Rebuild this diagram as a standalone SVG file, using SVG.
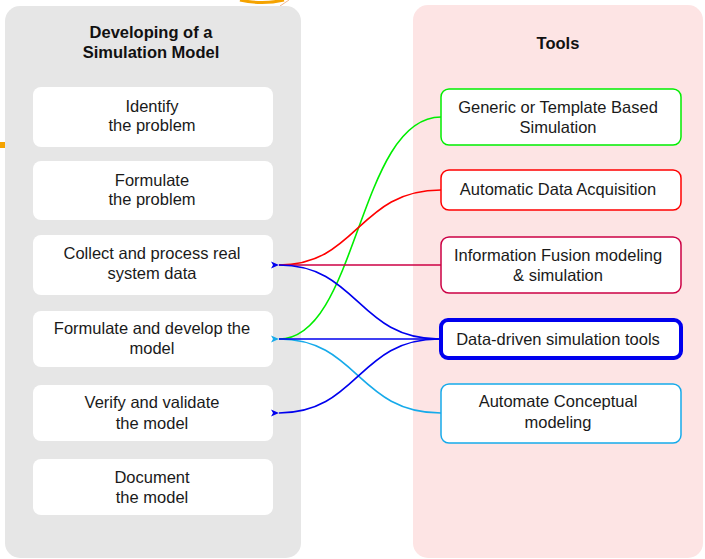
<svg xmlns="http://www.w3.org/2000/svg" width="705" height="559" viewBox="0 0 705 559">
  <style>
    .lbl { font-family: "Liberation Sans", Arial, sans-serif; font-size: 16.5px; fill: #1a1a1a; text-anchor: middle; }
    .ttl { font-family: "Liberation Sans", Arial, sans-serif; font-size: 16.5px; font-weight: bold; fill: #111; text-anchor: middle; }
    .step { fill: #ffffff; stroke: none; }
    .tool { fill: #ffffff; stroke-width: 1.5; }
    .wire { fill: none; stroke-width: 1.6; }
  </style>
  <defs>
    <marker id="ah-blue" viewBox="-1 -4 10 8" refX="0" refY="0" markerWidth="10" markerHeight="8" markerUnits="userSpaceOnUse" orient="auto-start-reverse">
      <path d="M0,0 L8,-3.5 L6,0 L8,3.5 Z" fill="#0000ee"/>
    </marker>
    <marker id="ah-cyan" viewBox="-1 -4 10 8" refX="0" refY="0" markerWidth="10" markerHeight="8" markerUnits="userSpaceOnUse" orient="auto-start-reverse">
      <path d="M0,0 L8,-3.5 L6,0 L8,3.5 Z" fill="#16aaea"/>
    </marker>
  </defs>

  <!-- partial neighbouring shapes at the edges -->
  <path d="M240,0 Q262,5 284,0" fill="none" stroke="#f5a300" stroke-width="3"/>
  <line x1="280" y1="6" x2="289" y2="0" stroke="#f0b890" stroke-width="1"/>
  <rect x="0" y="142" width="5" height="6" fill="#f5a300"/>

  <!-- column panels -->
  <g id="panel-develop">
    <rect x="5" y="6" width="296" height="552" rx="15" fill="#e6e6e6"/>
    <text class="ttl" x="151" y="38">Developing of a</text>
    <text class="ttl" x="151" y="58">Simulation Model</text>
  </g>
  <g id="panel-tools">
    <rect x="413" y="5" width="290" height="553" rx="15" fill="#fde4e4"/>
    <text class="ttl" x="558" y="49">Tools</text>
  </g>

  <!-- process steps -->
  <g id="step-identify">
    <rect class="step" x="33" y="87" width="240" height="60" rx="8"/>
    <text class="lbl" x="152" y="112">Identify</text>
    <text class="lbl" x="152" y="131">the problem</text>
  </g>
  <g id="step-formulate">
    <rect class="step" x="33" y="161" width="240" height="59" rx="8"/>
    <text class="lbl" x="152" y="186">Formulate</text>
    <text class="lbl" x="152" y="205">the problem</text>
  </g>
  <g id="step-collect">
    <rect class="step" x="33" y="235" width="240" height="60" rx="8"/>
    <text class="lbl" x="152" y="259">Collect and process real</text>
    <text class="lbl" x="152" y="279">system data</text>
  </g>
  <g id="step-develop">
    <rect class="step" x="33" y="311" width="240" height="56" rx="8"/>
    <text class="lbl" x="152" y="334">Formulate and develop the</text>
    <text class="lbl" x="152" y="354">model</text>
  </g>
  <g id="step-verify">
    <rect class="step" x="33" y="385" width="240" height="56" rx="8"/>
    <text class="lbl" x="152" y="408">Verify and validate</text>
    <text class="lbl" x="152" y="429">the model</text>
  </g>
  <g id="step-document">
    <rect class="step" x="33" y="459" width="240" height="56" rx="8"/>
    <text class="lbl" x="152" y="483">Document</text>
    <text class="lbl" x="152" y="503">the model</text>
  </g>

  <!-- connectors -->
  <g id="connectors">
    <path class="wire" stroke="#00ee00" d="M441,117 C358,117 358,339 279,339"/>
    <path class="wire" stroke="#ff0000" d="M441,190 C358,190 358,265 279,265"/>
    <path class="wire" stroke="#cc0044" d="M441,265 L279,265"/>
    <path class="wire" stroke="#16aaea" d="M441,413 C358,413 358,339 279,339" marker-end="url(#ah-cyan)"/>
    <path class="wire" stroke="#0000ee" d="M439,339 C358,339 358,265 279,265" marker-end="url(#ah-blue)"/>
    <path class="wire" stroke="#0000ee" d="M439,339 L279,339"/>
    <path class="wire" stroke="#0000ee" d="M439,339 C358,339 358,413 279,413" marker-end="url(#ah-blue)"/>
  </g>

  <!-- tools -->
  <g id="tool-generic">
    <rect class="tool" x="441" y="89" width="240" height="56" rx="8" stroke="#00ee00"/>
    <text class="lbl" x="558" y="113">Generic or Template Based</text>
    <text class="lbl" x="558" y="133">Simulation</text>
  </g>
  <g id="tool-acquisition">
    <rect class="tool" x="441" y="170" width="240" height="40" rx="8" stroke="#ff0000"/>
    <text class="lbl" x="558" y="195">Automatic Data Acquisition</text>
  </g>
  <g id="tool-fusion">
    <rect class="tool" x="441" y="237" width="240" height="56" rx="8" stroke="#cc0044"/>
    <text class="lbl" x="558" y="261">Information Fusion modeling</text>
    <text class="lbl" x="558" y="281">&amp; simulation</text>
  </g>
  <g id="tool-datadriven">
    <rect x="441" y="320" width="240" height="38" rx="7" fill="#ffffff" stroke="#0000ee" stroke-width="4"/>
    <text class="lbl" x="558" y="345">Data-driven simulation tools</text>
  </g>
  <g id="tool-conceptual">
    <rect class="tool" x="441" y="384" width="240" height="59" rx="8" stroke="#16aaea"/>
    <text class="lbl" x="558" y="407">Automate Conceptual</text>
    <text class="lbl" x="558" y="428">modeling</text>
  </g>
</svg>
